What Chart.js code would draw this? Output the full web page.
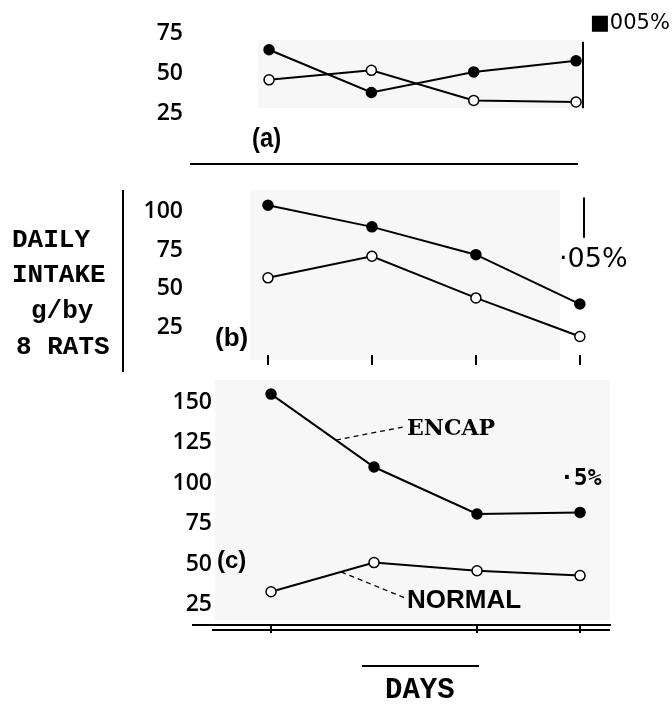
<!DOCTYPE html>
<html>
<head>
<meta charset="utf-8">
<script src="https://cdn.jsdelivr.net/npm/chart.js@4.4.1/dist/chart.umd.min.js"></script>
<style>
  body { margin: 0; background: #fff; }
  #page { position: relative; width: 672px; height: 711px; overflow: hidden; background: #fff; }
  canvas { position: absolute; left: 0; }
  .txt { position: absolute; white-space: nowrap; color: #000; line-height: 1; transform: translateY(-50%); }
  .rule { position: absolute; background: #000; }
  .shade { position: absolute; background: #f7f7f7; }
  .mono { font-family: "Liberation Mono", monospace; font-weight: bold; font-size: 26px; }
</style>
</head>
<body>
<div id="page">
  <div class="shade" style="left:258px;top:40px;width:325px;height:68px"></div>
  <div class="shade" style="left:250px;top:190px;width:310px;height:170px"></div>
  <div class="shade" style="left:215px;top:380px;width:395px;height:240px"></div>

  <canvas id="chartA" width="672" height="170" style="top:0"></canvas>
  <canvas id="chartB" width="672" height="200" style="top:175px"></canvas>
  <canvas id="chartC" width="672" height="275" style="top:370px"></canvas>

  <div class="txt" style="left:590px;top:22px;font-family:'DejaVu Sans';font-size:21px">■005%</div>
  <div class="txt" style="left:252px;top:138px;font-family:'Liberation Sans';font-weight:bold;font-size:28px;transform:translateY(-50%) scaleX(0.85);transform-origin:left">(a)</div>
  <div class="rule" style="left:190px;top:163px;width:388px;height:2px"></div>

  <div class="rule" style="left:122px;top:190px;width:2px;height:182px"></div>
  <div class="txt mono" style="left:12px;top:240px">DAILY</div>
  <div class="txt mono" style="left:12px;top:275px">INTAKE</div>
  <div class="txt mono" style="left:31px;top:311px">g/by</div>
  <div class="txt mono" style="left:16px;top:347px">8 RATS</div>
  <div class="txt" style="left:215px;top:337px;font-family:'Liberation Sans';font-weight:bold;font-size:26px">(b)</div>
  <div class="txt" style="left:559px;top:257px;font-family:'DejaVu Sans';font-size:27px">·05%</div>

  <div class="txt" style="left:407px;top:427px;font-family:'DejaVu Serif';font-weight:bold;font-size:22px">ENCAP</div>
  <div class="txt" style="left:407px;top:599px;font-family:'Liberation Sans';font-weight:bold;font-size:26px">NORMAL</div>
  <div class="txt" style="left:217px;top:560px;font-family:'Liberation Sans';font-weight:bold;font-size:24px">(c)</div>
  <div class="txt" style="left:560px;top:477px;font-family:'DejaVu Sans Mono';font-weight:bold;font-size:23px">·5%</div>
  <div class="rule" style="left:212px;top:629px;width:398px;height:2px"></div>
  <div class="rule" style="left:192px;top:624px;width:24px;height:2px"></div>

  <div class="rule" style="left:362px;top:665px;width:117px;height:1.5px"></div>
  <div class="txt mono" style="left:385px;top:690px;font-size:29px">DAYS</div>
</div>

<script>
// days on the x axis (unlabelled in the figure)
const days = [1, 2, 3, 4];

// (a) .005%
const encapA = [65, 38, 51, 58];
const normalA = [46, 52, 33, 32];
// (b) .05%
const encapB = [104, 90, 72, 40];
const normalB = [57, 71, 44, 19];
// (c) .5%
const encapC = [155, 110, 81, 82];
const normalC = [33, 51, 46, 43];

const yTicksA = [25, 50, 75];
const yTicksB = [25, 50, 75, 100];
const yTicksC = [25, 50, 75, 100, 125, 150];
const dayTicksB = [1, 2, 3, 4];
const dayTicksC = [1, 3, 4];

// extra strokes: right edge line and dashed leaders to the labels
const extras = {
    id: 'extras',
    afterDatasetsDraw(chart, args, opts) {
        const ctx = chart.ctx;
        const x = chart.scales.x, y = chart.scales.y;
        ctx.save();
        ctx.strokeStyle = '#000';
        if (opts.edge) {
            ctx.lineWidth = 2;
            ctx.beginPath();
            const ex = x.getPixelForValue(opts.edge.at);
            ctx.moveTo(ex, y.getPixelForValue(opts.edge.from));
            ctx.lineTo(ex, y.getPixelForValue(opts.edge.to));
            ctx.stroke();
        }
        (opts.leaders || []).forEach(l => {
            const pts = chart.getDatasetMeta(l.ds).data;
            const a = pts[0], b = pts[1];
            const sx = a.x + (b.x - a.x) * l.t, sy = a.y + (b.y - a.y) * l.t;
            ctx.lineWidth = 1.3;
            ctx.setLineDash([5, 4]);
            ctx.beginPath();
            ctx.moveTo(sx, sy);
            ctx.lineTo(sx + l.dx, sy + l.dy);
            ctx.stroke();
        });
        ctx.restore();
    }
};

function series(label, values, filled) {
    return {
        label: label,
        data: days.map((d, i) => ({ x: d, y: values[i] })),
        borderColor: '#000',
        borderWidth: 2,
        tension: 0,
        clip: false,
        pointRadius: 5,
        pointBorderWidth: 1.5,
        pointBorderColor: '#000',
        pointBackgroundColor: filled ? '#000' : '#fff'
    };
}

function panel(id, o) {
    return new Chart(document.getElementById(id), {
        type: 'line',
        data: { datasets: [series('ENCAP', o.encap, true), series('NORMAL', o.normal, false)] },
        options: {
            responsive: false,
            animation: false,
            devicePixelRatio: 1,
            layout: { padding: o.pad },
            plugins: { legend: { display: false }, tooltip: { enabled: false }, extras: o.extras || {} },
            scales: {
                x: {
                    type: 'linear',
                    min: o.xMin, max: o.xMax,
                    display: !!o.dayTicks,
                    afterBuildTicks: s => { if (o.dayTicks) s.ticks = o.dayTicks.map(v => ({ value: v })); },
                    afterFit: s => { s.height = o.tickLen || 0; s.paddingLeft = 0; s.paddingRight = 0; },
                    ticks: { display: false },
                    grid: { drawOnChartArea: false, tickLength: o.tickLen || 0, color: '#000', lineWidth: 2 },
                    border: { display: !!o.xBorder, color: '#000', width: 2 }
                },
                y: {
                    min: o.yMin, max: o.yMax,
                    afterBuildTicks: s => { s.ticks = o.yTicks.map(v => ({ value: v })); },
                    afterFit: s => { s.width = o.yWidth; s.paddingTop = 0; s.paddingBottom = 0; },
                    border: { display: false },
                    grid: { display: false, drawTicks: false },
                    ticks: { color: '#000', padding: o.tickPad, font: { family: 'Open Sans', size: 23, weight: '600' } }
                }
            }
        },
        plugins: [extras]
    });
}

panel('chartA', {
    encap: encapA, normal: normalA, yTicks: yTicksA,
    yMin: 20, yMax: 80, xMin: 0.892, xMax: 4.068,
    pad: { left: 138, right: 89, top: 26, bottom: 49 },
    yWidth: 120, tickPad: 75,
    extras: { edge: { at: 4.068, from: 70, to: 28 } }
});

panel('chartB', {
    encap: encapB, normal: normalB, yTicks: yTicksB,
    yMin: 7, yMax: 110, xMin: 0.731, xMax: 4.04,
    pad: { left: 120, right: 88, top: 21, bottom: 10 },
    yWidth: 120, tickPad: 57, dayTicks: dayTicksB, tickLen: 10,
    extras: { edge: { at: 4.04, from: 109, to: 83 } }
});

panel('chartC', {
    encap: encapC, normal: normalC, yTicks: yTicksC,
    yMin: 12.5, yMax: 160, xMin: 0.456, xMax: 4.291,
    pad: { left: 95, right: 62, top: 16, bottom: 12 },
    yWidth: 120, tickPad: 3, dayTicks: dayTicksC, tickLen: 8, xBorder: true,
    extras: { leaders: [{ ds: 0, t: 0.63, dx: 67, dy: -13 }, { ds: 1, t: 0.68, dx: 64, dy: 26 }] }
});
</script>
</body>
</html>
